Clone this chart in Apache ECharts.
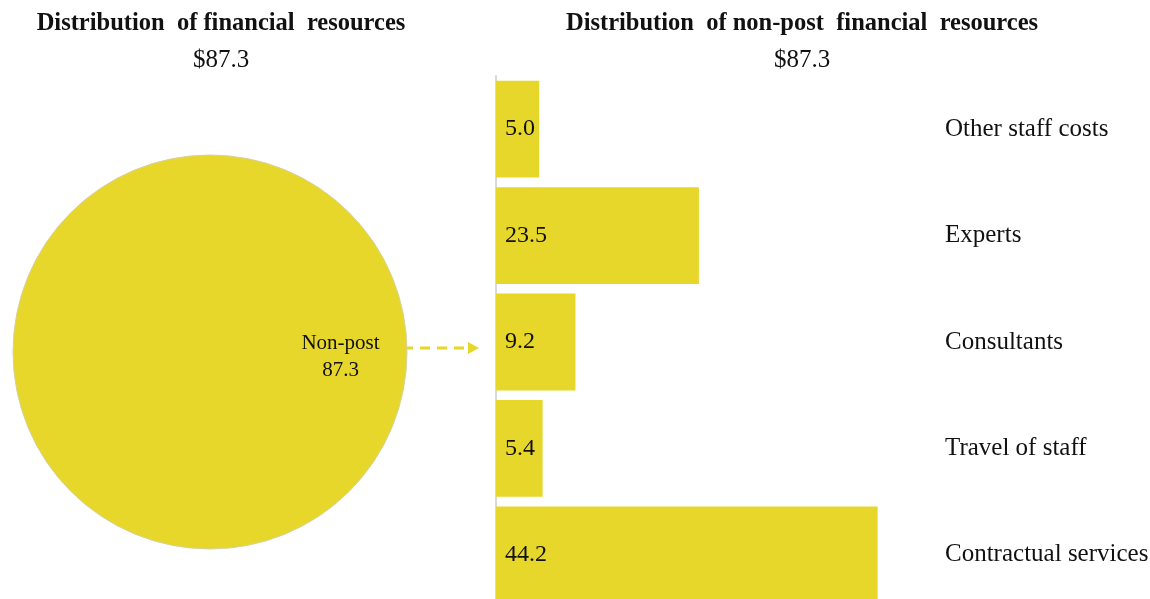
<!DOCTYPE html>
<html>
<head>
<meta charset="utf-8">
<script src="https://cdn.jsdelivr.net/npm/echarts@6/dist/echarts.min.js"></script>
<style>
  html, body { margin: 0; padding: 0; background: #fff; }
  #chart { width: 1150px; height: 599px; }
</style>
</head>
<body>
<div id="chart"></div>
<script>
// 数据
const pieNames = ['Non-post'];
const pieValues = [87.3];
const categories = ['Other staff costs', 'Experts', 'Consultants', 'Travel of staff', 'Contractual services'];
const values = [5.0, 23.5, 9.2, 5.4, 44.2];
const totalLabel = '$87.3';

const YELLOW = '#e6d72a';
const FONT = '"Liberation Serif", "Times New Roman", serif';

const chart = echarts.init(document.getElementById('chart'), null, { renderer: 'canvas' });

chart.setOption({
    textStyle: { fontFamily: FONT, color: '#111' },
    animation: false,
    title: [
        {
            text: 'Distribution  of financial  resources',
            subtext: totalLabel,
            left: 216, top: 6, textAlign: 'center',
            textStyle: { fontFamily: FONT, fontSize: 24.5, fontWeight: 'bold', color: '#111' },
            subtextStyle: { fontFamily: FONT, fontSize: 25, color: '#111' },
            itemGap: 12,
        },
        {
            text: 'Distribution  of non-post  financial  resources',
            subtext: totalLabel,
            left: 797, top: 6, textAlign: 'center',
            textStyle: { fontFamily: FONT, fontSize: 24.5, fontWeight: 'bold', color: '#111' },
            subtextStyle: { fontFamily: FONT, fontSize: 25, color: '#111' },
            itemGap: 12,
        },
    ],
    grid: { left: 496, top: 76, width: 449, height: 532, outerBoundsMode: 'none', containLabel: false },
    xAxis: {
        type: 'value', min: 0, max: 52, show: false,
    },
    yAxis: [
        {
            type: 'category', data: categories, inverse: true, position: 'left',
            axisLine: { show: true, lineStyle: { color: '#d9d9d9', width: 2 } },
            axisTick: { show: false },
            axisLabel: { show: false },
        },
        {
            type: 'category', data: categories, inverse: true, position: 'right',
            axisLine: { show: false },
            axisTick: { show: false },
            axisLabel: { show: true, align: 'left', margin: 0, fontSize: 25, fontFamily: FONT, color: '#111' },
        },
    ],
    series: [
        {
            type: 'pie',
            center: [210, 352],
            radius: 197,
            startAngle: 180,
            silent: true,
            data: pieNames.map((name, i) => ({ name, value: pieValues[i] })),
            itemStyle: { color: YELLOW, borderColor: '#d8d0a0', borderWidth: 1 },
            label: {
                show: true, position: 'inside', offset: [29, 5],
                formatter: p => p.name + '\n' + p.value.toFixed(1),
                fontFamily: FONT, fontSize: 21, lineHeight: 27, color: '#111',
            },
            labelLine: { show: false },
        },
        {
            type: 'bar',
            data: values,
            barCategoryGap: '9%',
            itemStyle: { color: YELLOW },
            label: {
                show: true, position: 'insideLeft', distance: 9,
                formatter: p => p.value.toFixed(1),
                fontFamily: FONT, fontSize: 24, color: '#111',
            },
        },
    ],
    graphic: [
        {
            type: 'line',
            shape: { x1: 386, y1: 348, x2: 470, y2: 348 },
            style: { stroke: YELLOW, lineWidth: 3, lineDash: [10, 7] },
        },
        {
            type: 'polygon',
            shape: { points: [[468, 342], [479, 348], [468, 354]] },
            style: { fill: YELLOW },
        },
    ],
});
</script>
</body>
</html>
